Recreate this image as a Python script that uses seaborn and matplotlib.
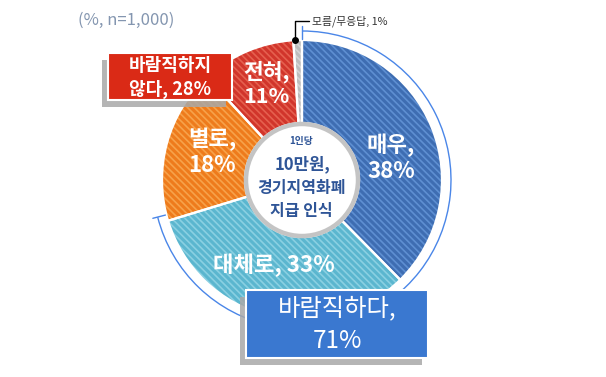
import matplotlib
matplotlib.use("Agg")
import matplotlib.pyplot as plt
import seaborn as sns
import numpy as np
from matplotlib.patches import Circle, Arc, Rectangle

# ---- data ----
categories = ["매우", "대체로", "별로", "전혀", "모름/무응답"]
values = [38, 33, 18, 11, 1]
base_colors = ["#3E6DB2", "#5BB6CF", "#EE7B1C", "#D1352B", "#BDBDBD"]
stripe_colors = ["#5E8FD2", "#8AD0E2", "#F7A24A", "#E5604F", "#D6D6D6"]
group_labels = ["바람직하다,\n71%", "바람직하지\n않다, 28%"]
group_values = [71, 28]
center_title = ["1인당", "10만원,", "경기지역화폐", "지급 인식"]
note = "(%, n=1,000)"

sns.set_theme(style="white")
plt.rcParams['font.family'] = ['Noto Sans CJK KR', 'DejaVu Sans']
plt.rcParams['hatch.linewidth'] = 1.2

W, H = 606, 377
fig = plt.figure(figsize=(W / 100, H / 100), dpi=100)
ax = fig.add_axes([0, 0, 1, 1])
ax.set_xlim(0, W)
ax.set_ylim(0, H)
ax.set_aspect('equal')
ax.axis('off')


def P(x, y):
    return (x, H - y)


cx, cy = P(302, 180)
R, r_in = 140, 57

# hatched layer
wedges, _ = ax.pie(values, colors=base_colors, startangle=90, counterclock=False,
                   center=(cx, cy), radius=R, frame=True,
                   wedgeprops=dict(width=R - r_in, linewidth=0))
for w, sc in zip(wedges, stripe_colors):
    w.set_hatch('\\\\\\\\\\')
    w.set_edgecolor(sc)
    w.set_linewidth(0)
# white separators
ax.pie(values, colors=['none'] * len(values), startangle=90, counterclock=False,
       center=(cx, cy), radius=R, frame=True,
       wedgeprops=dict(width=R - r_in, linewidth=1.6, edgecolor='white', fill=False))
ax.set_xlim(0, W)
ax.set_ylim(0, H)
ax.axis('off')

# center circle
ax.add_patch(Circle((cx, cy), r_in - 1, facecolor='white', edgecolor='#C4C4C4', linewidth=3.2, zorder=5))

# outer blue arc for "바람직하다"
ra = 149
span = group_values[0] / 100 * 360
a_end = 90 - span
ax.add_patch(Arc((cx, cy), 2 * ra, 2 * ra, theta1=a_end, theta2=90, color='#4A86E8', lw=1.0, zorder=3))
for a in (90, a_end):
    t = np.deg2rad(a)
    ax.plot([cx + (ra - 8) * np.cos(t), cx + (ra + 5) * np.cos(t)],
            [cy + (ra - 8) * np.sin(t), cy + (ra + 5) * np.sin(t)], color='#4A86E8', lw=1.0, zorder=3)

# slice labels
lab_kw = dict(color='white', fontweight='bold', ha='center', va='center', zorder=6, linespacing=1.15)
ax.text(*P(391, 158), f"{categories[0]},\n{values[0]}%", fontsize=16, **lab_kw)
ax.text(*P(274, 265), f"{categories[1]}, {values[1]}%", fontsize=16, **lab_kw)
ax.text(*P(212, 152), f"{categories[2]},\n{values[2]}%", fontsize=16, **lab_kw)
ax.text(*P(266, 84), f"{categories[3]},\n{values[3]}%", fontsize=15.5, **lab_kw)

# 모름/무응답 leader
ax.plot(*zip(P(295, 40), P(295, 21), P(309, 21)), color='black', lw=1.0, zorder=6)
ax.plot(*P(295, 40), 'o', color='black', ms=4, zorder=6)
ax.text(*P(312, 21), f"{categories[4]}, {values[4]}%", fontsize=7.8, color='#333333',
        ha='left', va='center', zorder=6)

# center text
ctc = '#2F5597'
ax.text(*P(301, 141), center_title[0], fontsize=7, color=ctc, ha='center', va='center', zorder=7, fontweight='bold')
ax.text(*P(302, 164), center_title[1], fontsize=12, color=ctc, ha='center', va='center', zorder=7, fontweight='bold')
ax.text(*P(301, 188), center_title[2], fontsize=11.5, color=ctc, ha='center', va='center', zorder=7, fontweight='bold')
ax.text(*P(301, 211), center_title[3], fontsize=11.5, color=ctc, ha='center', va='center', zorder=7, fontweight='bold')

# note
ax.text(*P(78, 20), note, fontsize=12, color='#8496B0', ha='left', va='center')


def box(x0, y0, x1, y1, color, text, fs, weight):
    sx, sy = -6, 7
    ax.add_patch(Rectangle(P(x0 + sx, y1 + sy), x1 - x0, y1 - y0, facecolor='#A8A8A8',
                           edgecolor='none', alpha=0.85, zorder=8))
    ax.add_patch(Rectangle(P(x0, y1), x1 - x0, y1 - y0, facecolor=color,
                           edgecolor='white', linewidth=1.5, zorder=9))
    ax.text(*P((x0 + x1) / 2, (y0 + y1) / 2 + 1), text, fontsize=fs, color='white', fontweight=weight,
            ha='center', va='center', zorder=10, linespacing=1.3)


box(108, 53, 232, 100, '#DA2A16', group_labels[1], 13, 'bold')
box(246, 290, 428, 358, '#3A78D0', group_labels[0], 17.5, 'medium')

fig.savefig('out.png', dpi=100)
